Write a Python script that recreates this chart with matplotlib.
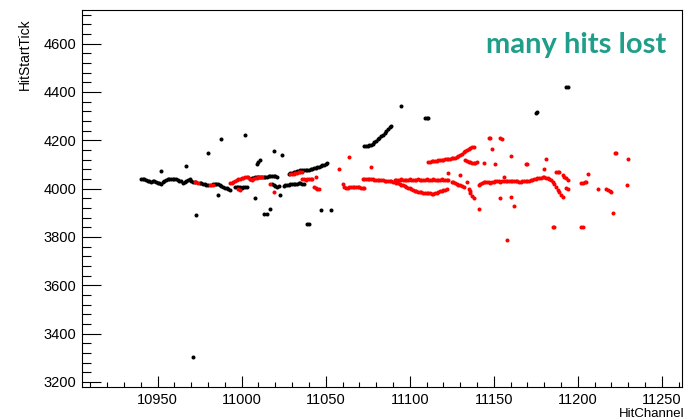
import matplotlib
matplotlib.use("Agg")
import matplotlib.pyplot as plt
from matplotlib.ticker import MultipleLocator

# black hits
black_x = [10940, 10941, 10942, 10943, 10944, 10945, 10946, 10947, 10948, 10949,
           10950, 10951, 10952, 10953, 10954, 10955, 10956, 10957, 10958, 10959,
           10960, 10961, 10962, 10963, 10964, 10965, 10966, 10967, 10968, 10969,
           10970, 10971, 10972, 10975, 10976, 10977, 10978, 10979, 10980, 10983,
           10984, 10985, 10986, 10987, 10988, 10989, 10990, 10991, 10992, 10993,
           10996, 10997, 10998, 10999, 11000, 11001, 11002, 11003,
           11005, 11006, 11007, 11008, 11009, 11010, 11011, 11012, 11013, 11014,
           11015, 11016, 11017, 11018, 11019, 11020, 11021,
           11018, 11019, 11020, 11021, 11022, 11025, 11026, 11027, 11028, 11029,
           11030, 11031, 11032, 11033, 11034, 11035, 11036, 11037,
           11028, 11029, 11030, 11031, 11032, 11033, 11034, 11035, 11036, 11037,
           11038, 11039, 11040, 11041, 11042, 11043, 11044, 11045, 11046, 11047,
           11048, 11049, 11050, 11051,
           11073, 11074, 11075, 11076, 11077, 11078, 11079, 11080, 11081, 11082,
           11083, 11084, 11085, 11086, 11087, 11088, 11089,
           10952, 10967, 10980, 10988, 11002, 10986, 10973, 10971, 11019, 11024,
           11009, 11010, 11011, 11008, 11017, 11013, 11015, 11023, 11039, 11040,
           11047, 11053, 11095, 11109, 11110, 11111, 11175, 11176, 11193, 11194]
black_y = [4038, 4038, 4038, 4036, 4033, 4031, 4028, 4031, 4030, 4027,
           4025, 4024, 4020, 4026, 4033, 4037, 4038, 4038, 4038, 4038,
           4038, 4038, 4036, 4033, 4030, 4025, 4027, 4032, 4036, 4038,
           4033, 4029, 4027, 4025, 4024, 4020, 4017, 4015, 4014, 4021,
           4021, 4020, 4019, 4015, 4012, 4008, 4004, 4001, 3998, 3995,
           4008, 4006, 4005, 4005, 4004, 4005, 4006, 4005,
           4040, 4043, 4045, 4047, 4048, 4048, 4049, 4050, 4050, 4050,
           4050, 4051, 4051, 4052, 4052, 4051, 4050,
           4020, 4015, 4010, 4008, 4012, 4011, 4013, 4015, 4016, 4018,
           4019, 4020, 4020, 4021, 4022, 4022, 4021, 4020,
           4062, 4064, 4066, 4068, 4070, 4071, 4073, 4075, 4077, 4078,
           4078, 4079, 4079, 4080, 4082, 4084, 4086, 4089, 4091, 4093,
           4096, 4099, 4102, 4105,
           4176, 4177, 4178, 4179, 4181, 4186, 4192, 4198, 4204, 4210,
           4216, 4222, 4230, 4238, 4246, 4254, 4258,
           4073, 4093, 4148, 4204, 4223, 3974, 3891, 3303, 4157, 4141,
           4102, 4110, 4118, 3960, 3914, 3895, 3895, 3974, 3854, 3854,
           3911, 3911, 4343, 4291, 4291, 4291, 4314, 4318, 4421, 4421]

# red hits
red_x = [10972, 10973, 10974, 10981, 10982, 10983, 10993, 10994, 10995,
         10996, 10997, 10998, 10999, 11000, 11001, 11002, 11003, 11004, 11005,
         11006, 11007, 11008, 11009, 11010, 11011, 11012,
         10998, 10999, 11017, 11019,
         11029, 11030, 11031, 11032, 11033, 11034, 11035, 11036,
         11036, 11037, 11038, 11039, 11040, 11041, 11042, 11044,
         11043, 11044, 11045, 11046, 11058, 11064,
         11060, 11061, 11062, 11063, 11064, 11065, 11066, 11067, 11068, 11069,
         11070, 11071, 11072, 11073, 11077,
         11072, 11073, 11074, 11075, 11076, 11077, 11078, 11079, 11080, 11081,
         11082, 11083, 11084, 11085, 11086, 11087, 11088, 11089, 11090,
         11091, 11092, 11093, 11094, 11095, 11096, 11097, 11098, 11099, 11100,
         11101, 11102, 11103, 11104, 11105, 11106, 11107, 11108, 11109, 11110,
         11111, 11112, 11113, 11114, 11115, 11116, 11117, 11118, 11119, 11120,
         11121, 11122, 11123,
         11091, 11092, 11093, 11094, 11095, 11096, 11097, 11098, 11099, 11100,
         11101, 11102, 11103, 11104, 11105, 11106, 11107, 11108, 11109, 11110,
         11111, 11112, 11113, 11114, 11115, 11116, 11117, 11118, 11119, 11120,
         11121, 11122,
         11111, 11112, 11113, 11114, 11115, 11116, 11117, 11118, 11119, 11120,
         11121, 11122, 11123, 11124, 11125, 11126, 11127, 11128, 11129, 11130,
         11131, 11132, 11133, 11134, 11135, 11136, 11137, 11138,
         11133, 11134, 11135, 11136, 11137, 11138, 11139, 11140,
         11123, 11130, 11125, 11126, 11127, 11128, 11129, 11130, 11131, 11132,
         11134, 11135, 11136, 11136, 11137, 11138, 11141,
         11141, 11142, 11143, 11144, 11145, 11146, 11147,
         11148, 11149, 11150, 11151, 11152, 11153, 11154, 11155, 11156, 11157,
         11158, 11159, 11160, 11161, 11162, 11163, 11164, 11165, 11166, 11167,
         11168, 11169, 11170, 11171, 11172, 11173, 11174, 11175, 11176, 11177,
         11178, 11179, 11180, 11181, 11182, 11183, 11184, 11185, 11186, 11187,
         11188, 11189, 11190, 11191,
         11144, 11147, 11148, 11149, 11151, 11154, 11155, 11156, 11160, 11154,
         11160, 11162, 11158, 11169, 11170, 11180, 11181, 11187, 11188, 11189,
         11191, 11192, 11193, 11194, 11193, 11194, 11202, 11203, 11204, 11205,
         11206, 11212, 11217, 11218, 11219, 11220, 11221, 11222, 11223, 11229,
         11230, 11202, 11203, 11185, 11186]
red_y = [4026, 4026, 4025, 4015, 4015, 4014, 4022, 4024, 4028,
         4030, 4034, 4038, 4041, 4043, 4045, 4046, 4047, 4046, 4040,
         4037, 4039, 4042, 4045, 4047, 4048, 4049,
         3998, 3996, 4018, 3987,
         4060, 4061, 4062, 4064, 4065, 4067, 4068, 4070,
         4038, 4038, 4037, 4038, 4039, 4039, 4038, 4047,
         4007, 4004, 4000, 3998, 4080, 4132,
         4018, 4008, 4002, 4004, 4006, 4007, 4007, 4008, 4008, 4007,
         4006, 4004, 4003, 4001, 4091,
         4040, 4040, 4040, 4039, 4039, 4038, 4038, 4037, 4037, 4036,
         4036, 4035, 4034, 4033, 4032, 4031, 4030, 4030, 4029,
         4036, 4037, 4036, 4037, 4038, 4037, 4036, 4037, 4037, 4038,
         4037, 4036, 4037, 4037, 4038, 4037, 4036, 4037, 4037, 4038,
         4037, 4036, 4037, 4038, 4037, 4036, 4037, 4037, 4038, 4037,
         4036, 4037, 4037,
         4027, 4025, 4022, 4019, 4016, 4013, 4010, 4007, 4004, 4001,
         3998, 3995, 3992, 3989, 3987, 3986, 3984, 3983, 3982, 3981,
         3980, 3980, 3979, 3979, 3980, 3982, 3985, 3988, 3991, 3994,
         3996, 3998,
         4111, 4112, 4113, 4114, 4115, 4116, 4117, 4118, 4119, 4120,
         4121, 4122, 4123, 4124, 4125, 4126, 4127, 4130, 4133, 4138,
         4144, 4150, 4155, 4160, 4165, 4168, 4171, 4173,
         4118, 4115, 4112, 4109, 4107, 4105, 4106, 4108,
         4063, 4056, 4029, 4027, 4024, 4020, 4016, 4013, 4010, 4008,
         4029, 4000, 3990, 3980, 3970, 3962, 3916,
         4015, 4018, 4022, 4026, 4029, 4029, 4027,
         4025, 4026, 4028, 4030, 4031, 4030, 4029, 4030, 4031, 4032,
         4032, 4031, 4030, 4030, 4031, 4031, 4030, 4029, 4029, 4030,
         4030, 4031, 4032, 4033, 4034, 4036, 4038, 4040, 4042, 4044,
         4045, 4046, 4046, 4045, 4043, 4040, 4036, 4028, 4018, 4006,
         3995, 3985, 3975, 3966,
         4105, 4208, 4208, 4162, 4102, 4208, 4205, 4047, 4135, 3960,
         3966, 3928, 3787, 4101, 4100, 4081, 4121, 4070, 4070, 4070,
         4056, 4050, 4043, 4036, 4001, 4000, 4025, 4025, 4026, 4026,
         4060, 3998, 3998, 3996, 3990, 3986, 3898, 4148, 4146, 4014,
         4124, 3842, 3843, 3840, 3840]

plt.rcParams['font.family'] = ['Liberation Sans', 'DejaVu Sans']

fig = plt.figure(figsize=(6.88, 4.2), dpi=100)
ax = fig.add_axes([82/688, 1-387/420, 600/688, 377/420])

ax.plot(black_x, black_y, 'o', color='black', ms=2.9, mew=0, ls='none')
ax.plot(red_x, red_y, 'o', color='red', ms=2.9, mew=0, ls='none')

ax.set_xlim(10905, 11262)
ax.set_ylim(3179, 4739)
ax.xaxis.set_major_locator(MultipleLocator(50))
ax.xaxis.set_minor_locator(MultipleLocator(10))
ax.yaxis.set_major_locator(MultipleLocator(200))
ax.yaxis.set_minor_locator(MultipleLocator(40))
ax.tick_params(which='both', direction='in', top=False, right=False,
               labelsize=10.5, width=0.8, color='black')
ax.tick_params(axis='x', which='major', length=7.7, pad=4)
ax.tick_params(axis='x', which='minor', length=3.4)
ax.tick_params(axis='y', which='major', length=13.5, pad=4)
ax.tick_params(axis='y', which='minor', length=6.5)
for s in ax.spines.values():
    s.set_linewidth(0.8)

fig.text(684/688, 1-417/420, 'HitChannel', ha='right', va='baseline', fontsize=9.5)
fig.text(25/688, 1-18/420, 'HitStartTick', ha='center', va='top', rotation=90, fontsize=10)
fig.text(666/688, 1-53/420, 'many hits lost', ha='right', va='baseline',
         fontsize=21, fontweight='bold', family=['Lato', 'DejaVu Sans'], color='#1f9e89')

fig.savefig('out.png', dpi=100)
